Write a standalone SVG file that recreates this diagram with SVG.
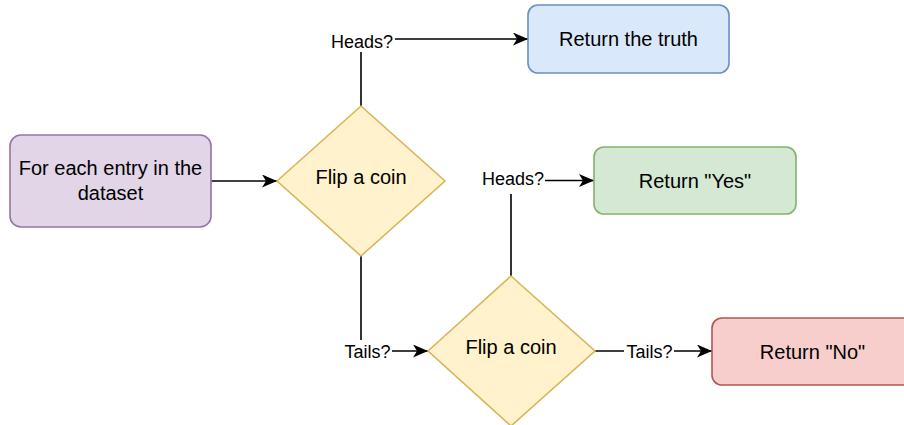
<svg xmlns="http://www.w3.org/2000/svg" width="904" height="425" viewBox="0 0 904 425">
  <style>
    .node { stroke-width: 1.6; }
    .purple { fill: #e1d5e7; stroke: #9673a6; }
    .blue { fill: #dae8fc; stroke: #6c8ebf; }
    .green { fill: #d5e8d4; stroke: #82b366; }
    .red { fill: #f8cecc; stroke: #b85450; }
    .yellow { fill: #fff2cc; stroke: #d6b656; }
    .label { font-family: "Liberation Sans", Arial, sans-serif; font-size: 20px; fill: #000; text-anchor: middle; }
    .edge-label { font-family: "Liberation Sans", Arial, sans-serif; font-size: 18px; fill: #000; text-anchor: middle; }
    .edge { fill: none; stroke: #000; stroke-width: 1.6; marker-end: url(#arrow); }
    .label-bg { fill: #fff; }
  </style>
  <defs>
    <marker id="arrow" markerUnits="userSpaceOnUse" viewBox="0 0 15 13" markerWidth="15" markerHeight="13" refX="15" refY="6.5" orient="auto">
      <path d="M0,0 L15,6.5 L0,13 L4,6.5 Z" fill="#000"/>
    </marker>
  </defs>

  <rect width="904" height="425" fill="#fff"/>

  <!-- connectors -->
  <g id="connectors">
    <path class="edge" d="M211,181 L277,181"/>
    <path class="edge" d="M361,106 L361,39 L528,39"/>
    <path class="edge" d="M361,256 L361,351 L428,351"/>
    <path class="edge" d="M511,276 L511,180.5 L594,180.5"/>
    <path class="edge" d="M595,351 L712,351"/>

    <!-- edge labels with white backgrounds -->
    <g id="label-heads-1">
      <rect class="label-bg" x="330" y="30" width="65" height="22"/>
      <text class="edge-label" x="362" y="48">Heads?</text>
    </g>
    <g id="label-heads-2">
      <rect class="label-bg" x="481" y="170" width="64" height="24"/>
      <text class="edge-label" x="513" y="185">Heads?</text>
    </g>
    <g id="label-tails-1">
      <rect class="label-bg" x="342" y="340" width="50" height="22"/>
      <text class="edge-label" x="367.5" y="358">Tails?</text>
    </g>
    <g id="label-tails-2">
      <rect class="label-bg" x="624" y="340" width="50" height="22"/>
      <text class="edge-label" x="649.5" y="357.5">Tails?</text>
    </g>
  </g>

  <!-- nodes -->
  <g id="start">
    <rect class="node purple" x="10" y="135" width="201" height="92" rx="11"/>
    <text class="label" x="110.5" y="175">For each entry in the</text>
    <text class="label" x="110.5" y="199.5">dataset</text>
  </g>

  <g id="flip-1">
    <polygon class="node yellow" points="277,181 361,106 445,181 361,256"/>
    <text class="label" x="361" y="184">Flip a coin</text>
  </g>

  <g id="truth">
    <rect class="node blue" x="528" y="5" width="201" height="68" rx="10"/>
    <text class="label" x="628.5" y="46">Return the truth</text>
  </g>

  <g id="yes">
    <rect class="node green" x="594" y="147" width="202" height="67" rx="10"/>
    <text class="label" x="695" y="188">Return "Yes"</text>
  </g>

  <g id="flip-2">
    <polygon class="node yellow" points="428,351 511,276 595,351 511,426"/>
    <text class="label" x="511" y="354">Flip a coin</text>
  </g>

  <g id="no">
    <rect class="node red" x="712" y="318" width="201" height="67" rx="10"/>
    <text class="label" x="812.5" y="358.5">Return "No"</text>
  </g>
</svg>
